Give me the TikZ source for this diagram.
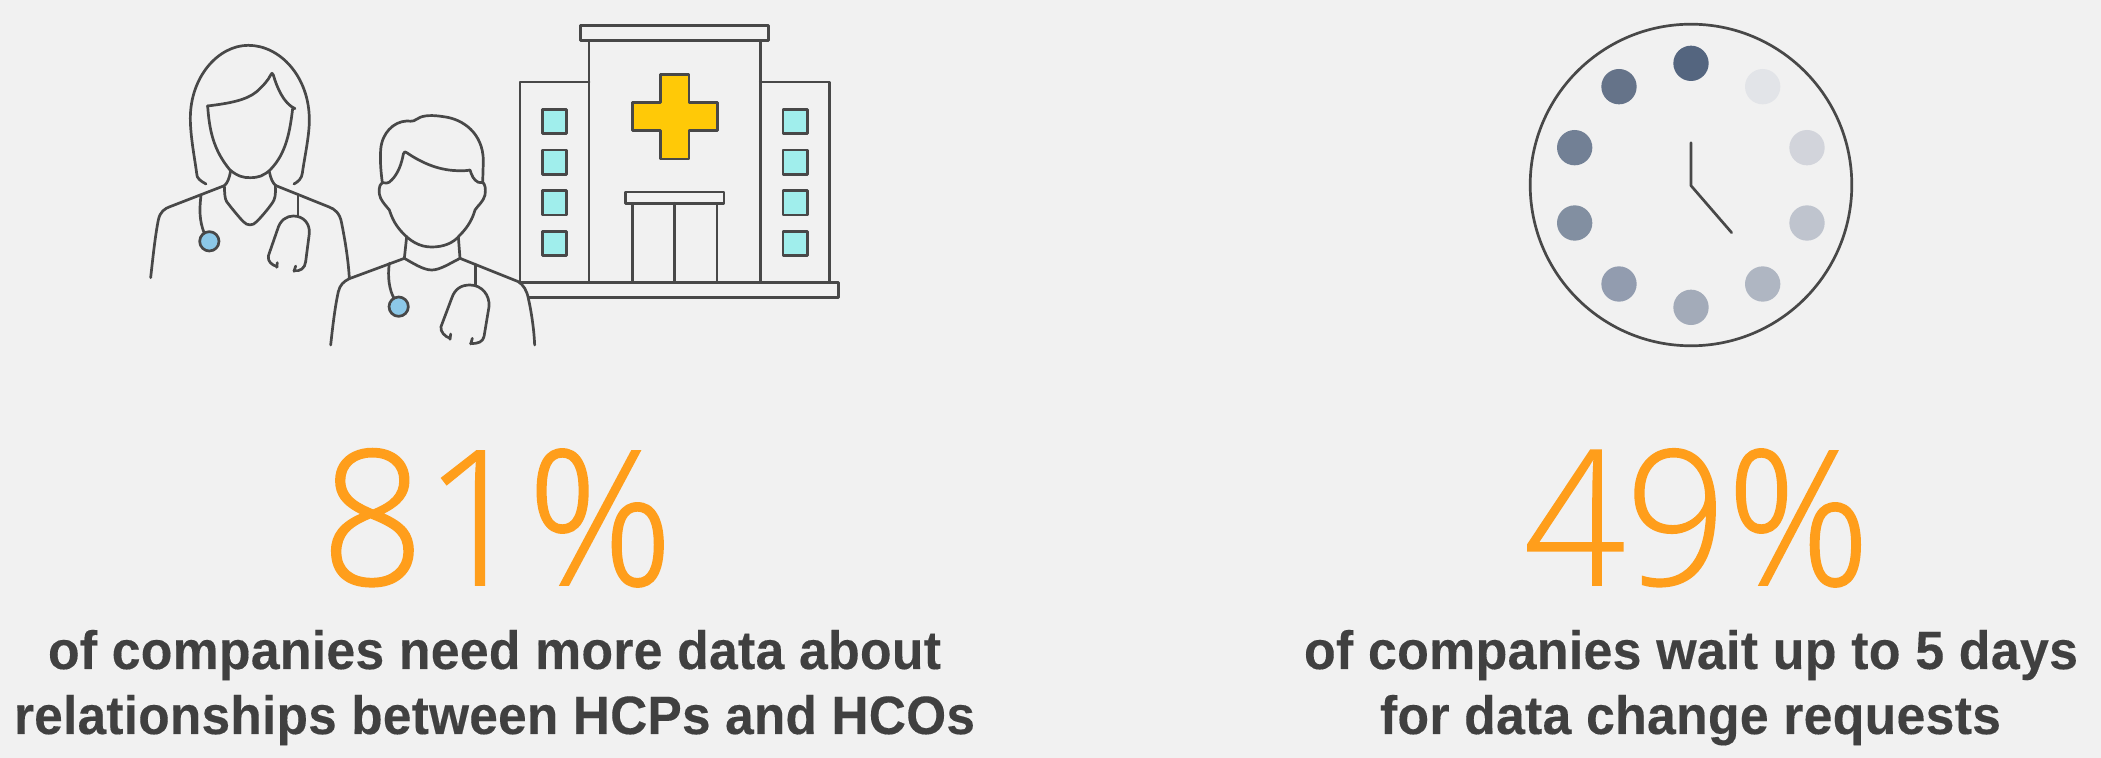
\documentclass[tikz,border=0pt]{standalone}
\usepackage{fontspec}
\usepackage{graphicx}
\setmainfont{Liberation Sans}
\newfontfamily\boldtxt[LetterSpace=0.5,FakeBold=0.25]{Liberation Sans Bold}
\newfontfamily\thintxt[FakeBold=0.8]{Open Sans Light}
\definecolor{bgc}{HTML}{F1F1F1}
\definecolor{linec}{HTML}{484848}
\definecolor{orangec}{HTML}{FF9E1B}
\definecolor{textc}{HTML}{404040}
\definecolor{winc}{HTML}{A0EEEC}
\definecolor{crossc}{HTML}{FFC907}
\definecolor{steth}{HTML}{8CC8E8}
\tikzset{
  pxunits/.style={x=0.5pt,y=-0.5pt},
  ln/.style={draw=linec,line width=1.35pt,line join=round,line cap=round},
  bignum/.style={anchor=base west,inner sep=0pt,outer sep=0pt,text=orangec,font=\thintxt\fontsize{94}{98}\selectfont},
  captxt/.style={anchor=base west,inner sep=0pt,outer sep=0pt,text=textc,font=\boldtxt\fontsize{27}{30}\selectfont},
  winbox/.style={ln,fill=winc},
}
\newcommand{\fitw}[2]{\resizebox{#1pt}{\height}{#2}}
\begin{document}
\begin{tikzpicture}[pxunits]
\useasboundingbox (0,0) rectangle (2101,758);
\fill[bgc] (0,0) rectangle (2101,758);
% hospital
\begin{scope}[shift={(500,10)},x=0.16667pt,y=-0.16667pt]
  \draw[ln] (242,46) rectangle (806,92);
  \draw[ln] (267,92) rectangle (781,817);
  \draw[ln] (60,817) |- (267,216);
  \draw[ln] (781,216) -| (988,817);
  \draw[ln] (60,817) -- (1016,817) -- (1016,862) -- (60,862);
  \foreach \wy in {298,420,542,664} {
    \draw[winbox] (127,\wy) rectangle ++(73,73);
    \draw[winbox] (849,\wy) rectangle ++(73,73);
  }
  \draw[ln,fill=crossc] (482,193) -- (567,193) -- (567,277) -- (652,277) -- (652,362) -- (567,362) -- (567,447) -- (482,447) -- (482,362) -- (397,362) -- (397,277) -- (482,277) -- cycle;
  \draw[ln] (376,546) rectangle (672,580);
  \draw[ln] (397,580) rectangle (651,817);
  \draw[ln] (524,580) -- (524,817);
\end{scope}
% doctors
\begin{scope}[shift={(130,20)},x=0.16667pt,y=-0.16667pt]
  % woman
  \draw[ln] (228,492) .. controls (210,482) and (200,475) .. (200,460) .. controls (195,420) and (181,350) .. (181,295) .. controls (181,170) and (265,76) .. (355,76) .. controls (450,76) and (538,170) .. (538,300) .. controls (538,350) and (522,420) .. (517,460) .. controls (515,475) and (505,485) .. (492,492);
  \draw[ln] (232,258) .. controls (300,250) and (350,240) .. (380,215) .. controls (400,197) and (415,180) .. (422,165) .. controls (424,158) and (428,158) .. (430,165) .. controls (440,200) and (460,250) .. (495,266);
  \draw[ln] (233,258) .. controls (238,330) and (250,390) .. (300,450) .. controls (325,470) and (340,473) .. (360,473) .. controls (385,473) and (400,468) .. (420,450) .. controls (470,400) and (480,330) .. (488,266);
  \draw[ln] (302,452) .. controls (298,475) and (292,490) .. (283,497) .. controls (284,520) and (284,535) .. (290,545) .. controls (305,565) and (330,595) .. (340,605) .. controls (352,618) and (368,618) .. (380,605) .. controls (395,590) and (425,555) .. (432,540) .. controls (438,525) and (436,510) .. (436,495);
  \draw[ln] (418,455) .. controls (422,475) and (428,490) .. (438,497);
  \draw[ln] (62,773) .. controls (68,720) and (75,650) .. (85,600) .. controls (90,575) and (105,565) .. (120,560) -- (283,497);
  \draw[ln] (438,497) -- (595,560) .. controls (615,567) and (630,580) .. (635,610) .. controls (645,660) and (655,720) .. (658,775);
  \draw[ln] (213,525) .. controls (208,570) and (208,600) .. (222,638);
  \draw[ln,fill=steth] (238,664) circle [radius=29];
  \draw[ln] (504,525) -- (504,588);
  \draw[ln] (442,740) .. controls (425,735) and (413,725) .. (415,708) -- (442,630) .. controls (450,600) and (470,588) .. (490,588) .. controls (520,588) and (540,610) .. (538,640) -- (527,725) .. controls (525,745) and (510,755) .. (492,752);
  \draw[ln] (442,728) -- (440,742);
  \draw[ln] (497,738) -- (492,754);
  % man
  \fill[bgc] (602,975) .. controls (608,920) and (615,860) .. (625,815) .. controls (630,795) and (640,785) .. (658,776) -- (823,715) -- (990,715) -- (1165,785) .. controls (1180,795) and (1190,810) .. (1195,835) .. controls (1205,880) and (1212,930) .. (1214,975) -- cycle;
  \draw[ln] (757,488) .. controls (752,450) and (750,420) .. (752,390) .. controls (755,340) and (790,305) .. (830,303) .. controls (850,305) and (855,302) .. (865,295) .. controls (880,285) and (910,285) .. (940,290) .. controls (1000,297) and (1058,340) .. (1060,420) -- (1058,488);
  \draw[ln] (757,488) .. controls (765,490) and (775,492) .. (785,480) .. controls (805,460) and (815,430) .. (820,402) .. controls (822,394) and (826,394) .. (830,398) .. controls (870,425) and (920,450) .. (980,452) .. controls (1000,453) and (1010,452) .. (1020,450) .. controls (1025,465) and (1030,480) .. (1045,487) .. controls (1050,489) and (1055,489) .. (1060,488);
  \draw[ln] (757,488) .. controls (745,495) and (745,520) .. (752,535) .. controls (760,550) and (770,560) .. (778,570) .. controls (785,590) and (790,605) .. (810,630) .. controls (840,665) and (870,681) .. (905,681) .. controls (940,681) and (970,670) .. (990,645) .. controls (1015,620) and (1028,595) .. (1035,570) .. controls (1045,555) and (1060,545) .. (1065,525) .. controls (1068,505) and (1065,492) .. (1058,488);
  \draw[ln] (830,650) -- (823,715);
  \draw[ln] (985,650) -- (990,715);
  \draw[ln] (823,715) .. controls (850,730) and (880,750) .. (905,750) .. controls (930,750) and (960,730) .. (990,715);
  \draw[ln] (602,975) .. controls (608,920) and (615,860) .. (625,815) .. controls (630,795) and (640,785) .. (658,776) -- (823,715);
  \draw[ln] (990,715) -- (1165,785) .. controls (1180,795) and (1190,810) .. (1195,835) .. controls (1205,880) and (1212,930) .. (1214,975);
  \draw[ln] (778,730) .. controls (772,770) and (778,810) .. (792,835);
  \draw[ln,fill=steth] (806,860) circle [radius=29];
  \draw[ln] (1036,733) -- (1036,795);
  \draw[ln] (960,955) .. controls (945,950) and (930,935) .. (933,920) -- (965,835) .. controls (975,805) and (995,795) .. (1020,795) .. controls (1055,795) and (1080,825) .. (1077,860) -- (1062,950) .. controls (1058,965) and (1045,972) .. (1022,970);
  \draw[ln] (962,942) -- (960,958);
  \draw[ln] (1027,955) -- (1022,972);
\end{scope}
% clock
\draw[ln] (1691,185) circle [radius=160.8];
\begin{scope}[shift={(1510,10)},x=0.16667pt,y=-0.16667pt]
  \foreach \dx/\dy/\dc in {543/160/54657F,327/230/657389,194/413/728095,194/639/828FA1,327/822/929CAF,543/892/A3ABB9,758/822/AFB6C2,891/639/BFC4CE,891/413/D2D4DB,758/230/E2E4E8} {
    \definecolor{dotc}{HTML}{\dc}
    \fill[dotc] (\dx,\dy) circle [radius=53];
  }
  \draw[ln] (543,398) -- (543,527) -- (665,668);
\end{scope}
% text
\node[bignum] (p1) at (321,585) {\fitw{176}{81\%}};
\node[bignum] (p2) at (1524,585) {\fitw{173}{49\%}};
\node[captxt] (a1) at (48,669) {\fitw{446.5}{of companies need more data about}};
\node[captxt] (a2) at (14,734) {\fitw{480.5}{relationships between HCPs and HCOs}};
\node[captxt] (b1) at (1304,669) {\fitw{387}{of companies wait up to 5 days}};
\node[captxt] (b2) at (1380,734) {\fitw{310.5}{for data change requests}};
\end{tikzpicture}
\end{document}
